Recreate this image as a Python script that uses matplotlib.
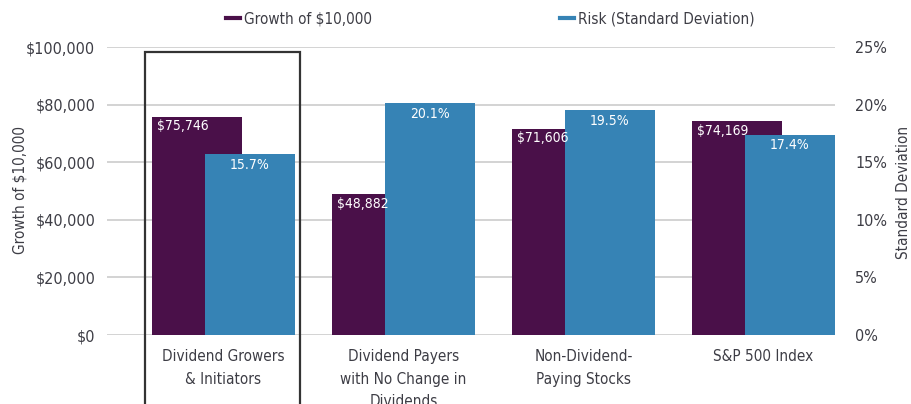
import matplotlib.pyplot as plt
import numpy as np
from matplotlib.lines import Line2D
from matplotlib.patches import Rectangle

plt.rcParams['font.family'] = ['DejaVu Sans']
plt.rcParams['font.stretch'] = 'condensed'

categories = ["Dividend Growers\n& Initiators", "Dividend Payers\nwith No Change in\nDividends",
              "Non-Dividend-\nPaying Stocks", "S&P 500 Index"]
growth = [75746, 48882, 71606, 74169]
risk = [15.7, 20.1, 19.5, 17.4]
growth_ticks = [0, 20000, 40000, 60000, 80000, 100000]
risk_ticks = [0, 5, 10, 15, 20, 25]

purple = "#4a1049"
blue = "#3683b5"
txt = "#3d3d45"

fig = plt.figure(figsize=(9.11, 4.04), dpi=100)
ax = fig.add_axes([107/911, 1-335/404, 728/911, 288/404])
ax2 = ax.twinx()

x = np.arange(len(categories))
off = 0.147
w = 0.5

ax.bar(x - off, growth, width=w, color=purple, zorder=2)
ax.set_ylim(0, 100000)
ax.set_xlim(-0.647, 3.397)
ax.set_yticks(growth_ticks)
ax.set_yticklabels(["${:,}".format(v) for v in growth_ticks])
ax.grid(axis='y', color='#cccccc', lw=1.2, zorder=0)
ax.set_axisbelow(True)
ax.set_xticks(x)
ax.set_xticklabels(categories, fontsize=11, color=txt, va='top', linespacing=1.65)
ax.tick_params(axis='x', length=0, pad=10)
ax.tick_params(axis='y', length=0, pad=8.5, labelsize=11.5, labelcolor=txt)

ax2.bar(x + off, risk, width=w, color=blue, zorder=2)
ax2.set_ylim(0, 25)
ax2.set_yticks(risk_ticks)
ax2.set_yticklabels(["{}%".format(v) for v in risk_ticks])
ax2.tick_params(axis='y', length=0, pad=14.5, labelsize=11.5, labelcolor=txt)

fig.text(20/911, 1-190/404, "Growth of $10,000", rotation=90, ha='center', va='center',
         fontsize=11, color=txt)
fig.text(904/911, 1-192/404, "Standard Deviation", rotation=90, ha='center', va='center',
         fontsize=11, color=txt)

for a in (ax, ax2):
    for s in a.spines.values():
        s.set_visible(False)

for i in range(len(categories)):
    ax2.text(x[i] - off - w/2 + 0.025, growth[i] - 900, "${:,}".format(growth[i]),
             transform=ax.transData, color='white', fontsize=10, ha='left', va='top', zorder=3)
    ax2.text(x[i] + off, risk[i] - 0.3, "{}%".format(risk[i]),
             color='white', fontsize=10, ha='center', va='top', zorder=3)

# highlight box around first group
box = Rectangle((-0.436, -0.3), 0.861, 0.3 + (335-52)/288,
                transform=ax.get_xaxis_transform(), fill=False, edgecolor='#333333',
                lw=1.6, clip_on=False, zorder=4)
ax2.add_patch(box)

fig.legend([Line2D([0], [0], color=purple, lw=3)], ["Growth of $10,000"], loc='center left',
           bbox_to_anchor=(212/911, 1-19/404), frameon=False, fontsize=11,
           handlelength=0.9, handletextpad=0.3, labelcolor=txt)
fig.legend([Line2D([0], [0], color=blue, lw=3)], ["Risk (Standard Deviation)"], loc='center left',
           bbox_to_anchor=(546/911, 1-19/404), frameon=False, fontsize=11,
           handlelength=0.9, handletextpad=0.3, labelcolor=txt)

fig.savefig("out.png", dpi=100)
